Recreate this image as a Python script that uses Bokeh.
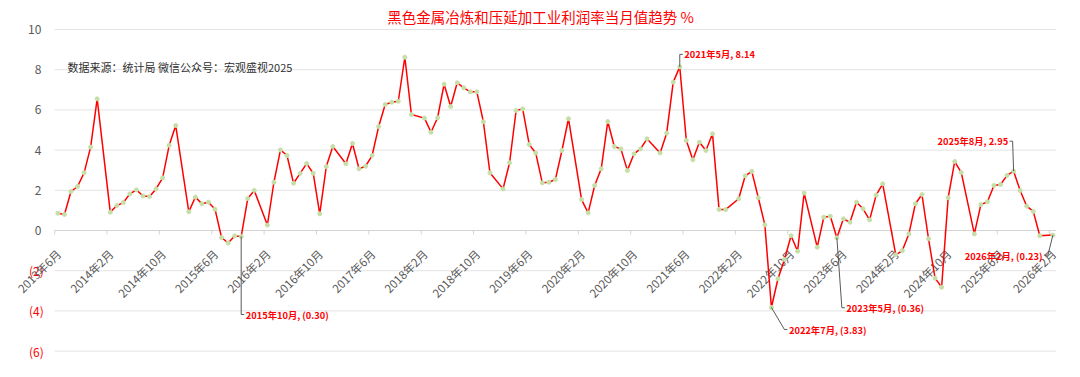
from bokeh.plotting import figure
from bokeh.models import Range1d, ColumnDataSource
from bokeh.core.properties import value
from bokeh.embed import file_html
from bokeh.resources import INLINE
import math

# ---------------- data ----------------
title_text = "黑色金属冶炼和压延加工业利润率当月值趋势 %"
source_text = "数据来源：统计局  微信公众号：宏观盛视2025"

# monthly values (January not published; Jan-Feb combined in Feb)
v2013 = [0.86, 0.80, 1.94, 2.19, 2.87, 4.15, 6.55]                              # Jun-Dec
v2014 = [0.91, 1.24, 1.39, 1.82, 2.02, 1.72, 1.69, 2.07, 2.62, 4.24, 5.22]      # Feb-Dec
v2015 = [0.93, 1.66, 1.33, 1.41, 1.06, -0.35, -0.62, -0.27, -0.30, 1.59, 1.99]
v2016 = [0.27, 2.40, 4.01, 3.73, 2.35, 2.84, 3.33, 2.85, 0.83, 3.18, 4.18]
v2017 = [3.32, 4.33, 3.07, 3.20, 3.73, 5.17, 6.27, 6.38, 6.43, 8.62, 5.77]
v2018 = [5.59, 4.89, 5.61, 7.28, 6.17, 7.35, 7.10, 6.90, 6.90, 5.41, 2.87]
v2019 = [2.07, 3.37, 5.97, 6.05, 4.28, 3.85, 2.37, 2.40, 2.54, 3.98, 5.56]
v2020 = [1.54, 0.88, 2.24, 3.07, 5.42, 4.18, 4.06, 2.99, 3.81, 4.06, 4.56]
v2021 = [3.86, 4.84, 7.38, 8.14, 4.48, 3.52, 4.39, 3.98, 4.81, 1.05, 1.04]
v2022 = [1.58, 2.72, 2.94, 1.63, 0.28, -3.83, -2.40, -1.44, -0.26, -1.03, 1.86]
v2023 = [-0.83, 0.66, 0.71, -0.36, 0.58, 0.41, 1.41, 1.08, 0.53, 1.76, 2.32]
v2024 = [-1.21, -1.00, -0.17, 1.33, 1.79, -0.41, -2.37, -2.82, 1.63, 3.43, 2.89]
v2025 = [-0.17, 1.29, 1.43, 2.24, 2.29, 2.74, 2.95, 1.99, 1.21, 0.95, -0.26]
v2026 = [-0.23]                                                                   # Feb

years = [2013, 2014, 2015, 2016, 2017, 2018, 2019, 2020, 2021, 2022, 2023, 2024, 2025, 2026]
year_values = [v2013, v2014, v2015, v2016, v2017, v2018, v2019, v2020, v2021,
               v2022, v2023, v2024, v2025, v2026]

y_ticks = [-6, -4, -2, 0, 2, 4, 6, 8, 10]
y_tick_labels = ["(6)", "(4)", "(2)", "0", "2", "4", "6", "8", "10"]

# labelled points
annotated = [(2015, 10), (2021, 5), (2022, 7), (2023, 5), (2025, 8), (2026, 2)]

# ---------------- build series ----------------
START_Y, START_M = 2013, 6


def month_index(y, m):
    return (y - START_Y) * 12 + (m - START_M)


xs, ys, lookup = [], [], {}
for yr, vals in zip(years, year_values):
    first_m = START_M if yr == START_Y else 2
    for k, v in enumerate(vals):
        m = first_m + k
        i = month_index(yr, m)
        xs.append(i)
        ys.append(v)
        lookup[(yr, m)] = (i, v)

last_i = xs[-1]
label_idx = list(range(0, last_i + 1, 8))
label_txt = []
for i in label_idx:
    tot = START_M - 1 + i
    label_txt.append(f"{START_Y + tot // 12}年{tot % 12 + 1}月")

# ---------------- layout (pixels) ----------------
W, H = 1080, 377
X0_PX, XS = 57.4, 6.546      # pixel of first month, px per month
Y0_PX, YS = 230.0, 20.1      # pixel of zero line, px per unit

x_start = -X0_PX / XS
x_end = (W - X0_PX) / XS
y_end = Y0_PX / YS
y_start = -(H - Y0_PX) / YS


def px2x(px):
    return (px - X0_PX) / XS


def px2y(py):
    return (Y0_PX - py) / YS


p = figure(width=W, height=H, x_range=Range1d(x_start, x_end), y_range=Range1d(y_start, y_end),
           output_backend="svg", toolbar_location=None, min_border=0)
p.axis.visible = False
p.grid.visible = False
p.outline_line_color = None
p.background_fill_color = "white"
p.border_fill_color = "white"

CJK = value("Noto Sans CJK SC")
xl, xr = -0.5, last_i + 0.5

# gridlines
grid_y = [t for t in y_ticks if t != 0]
p.segment(x0=[xl] * len(grid_y), x1=[xr] * len(grid_y), y0=grid_y, y1=grid_y,
          line_color="#e3e3e3", line_width=1)
# x axis line at zero + tick marks
p.segment(x0=[xl], x1=[xr], y0=[0], y1=[0], line_color="#d4d4d4", line_width=1)
tick_x = [i - 0.5 for i in label_idx]
p.segment(x0=tick_x, x1=tick_x, y0=[0] * len(tick_x), y1=[-4 / YS] * len(tick_x),
          line_color="#d4d4d4", line_width=1)

# y tick labels
pos_t = [t for t in y_ticks if t >= 0]
pos_l = [l for t, l in zip(y_ticks, y_tick_labels) if t >= 0]
neg_t = [t for t in y_ticks if t < 0]
neg_l = [l for t, l in zip(y_ticks, y_tick_labels) if t < 0]
p.text(x=[px2x(40.8)] * len(pos_t), y=pos_t, text=pos_l, text_align="right",
       text_baseline="middle", text_font=CJK, text_font_size="12px", text_color="#595959")
p.text(x=[px2x(43.2)] * len(neg_t), y=neg_t, text=neg_l, text_align="right",
       text_baseline="middle", text_font=CJK, text_font_size="12px", text_color="#ff0000")

# x category labels (rotated)
p.text(x=[i + 0.1 for i in label_idx], y=[-21 / YS] * len(label_idx), text=label_txt,
       angle=math.pi / 4, text_align="right", text_baseline="middle",
       text_font=CJK, text_font_size="11.5px", text_color="#595959")

# series
src = ColumnDataSource(dict(x=xs, y=ys))
p.line("x", "y", source=src, line_color="#ff0000", line_width=1.5)
p.scatter("x", "y", source=src, size=4, fill_color="#c6dfa6", line_color="#c6dfa6")

# annotations: leader path offsets (px) and text anchor offset (px)
ann_style = {
    (2015, 10): ([(0, 0), (0, 78), (3, 78)], (4.5, 78), "left"),
    (2021, 5): ([(0, 0), (0, -12.5), (3, -12.5)], (4.5, -12.5), "left"),
    (2022, 7): ([(0, 0), (13, 22), (16, 22)], (17.5, 22.5), "left"),
    (2023, 5): ([(0, 0), (5, 70), (8, 70)], (9.5, 70), "left"),
    (2025, 8): ([(0, 0), (-1, -30), (-4, -30)], (-5.5, -30), "right"),
    (2026, 2): ([(0, 0), (-5, 20), (-9, 20)], (-10.5, 21), "right"),
}
for key in annotated:
    i, v = lookup[key]
    path, (tx, ty), align = ann_style[key]
    lx = [i + dx / XS for dx, dy in path]
    ly = [v - dy / YS for dx, dy in path]
    p.line(lx, ly, line_color="#595959", line_width=1)
    vs = f"({abs(v):.2f})" if v < 0 else f"{v:.2f}"
    p.text(x=[i + tx / XS], y=[v - ty / YS], text=[f"{key[0]}年{key[1]}月, {vs}"],
           text_align=align, text_baseline="middle", text_font=CJK,
           text_font_size="9.3px", text_font_style="bold", text_color="#ff0000")

# title and source note
p.text(x=[px2x(540)], y=[px2y(16)], text=[title_text], text_align="center",
       text_baseline="middle", text_font=CJK, text_font_size="14.5px", text_color="#ff0000")
p.text(x=[px2x(67)], y=[px2y(66.7)], text=[source_text], text_align="left",
       text_baseline="middle", text_font=CJK, text_font_size="11px", text_color="#303030")

open("out.html", "w").write(file_html(p, INLINE))
